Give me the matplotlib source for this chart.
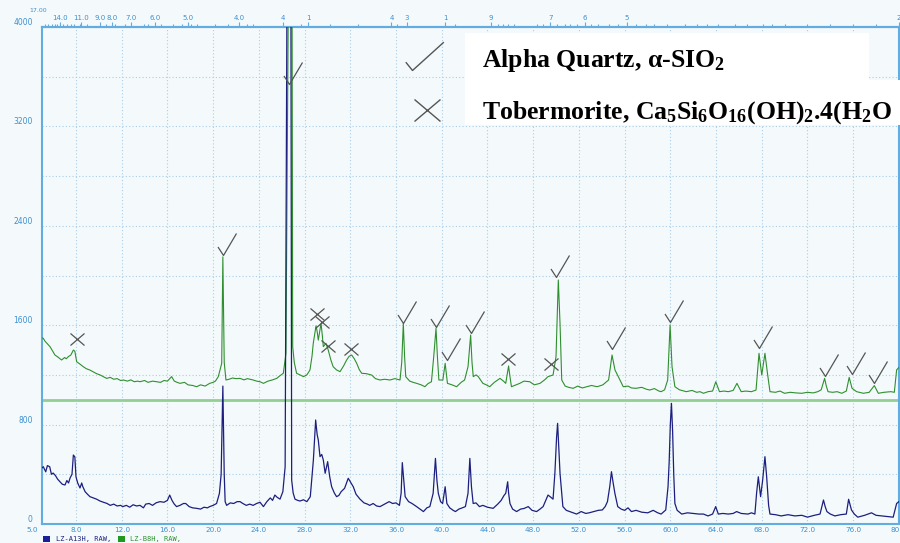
import matplotlib
matplotlib.use("Agg")
import matplotlib.pyplot as plt
from matplotlib.path import Path
from matplotlib.patches import Rectangle

# ---------------- data ----------------
blue_tt = [5.0, 5.14, 5.35, 5.5, 5.7, 5.85, 6.0, 6.2, 6.4, 6.6, 6.8, 7.04, 7.2, 7.35, 7.48, 7.65, 7.77, 7.9, 8.0, 8.15,
           8.35, 8.5, 8.6, 8.8, 9.0, 9.22, 9.5, 9.8, 10.1, 10.4, 10.7, 11.0, 11.3, 11.6, 11.9, 12.1, 12.4, 12.7, 13.0, 13.3,
           13.6, 13.9, 14.1, 14.4, 14.7, 15.0, 15.35, 15.7, 16.0, 16.2, 16.4, 16.6, 16.8, 17.1, 17.4, 17.6, 17.9, 18.2, 18.56, 18.9,
           19.2, 19.5, 19.7, 20.0, 20.3, 20.55, 20.7, 20.85, 20.97, 21.05, 21.18, 21.5, 21.8, 22.1, 22.35, 22.6, 22.9, 23.2, 23.5, 23.8,
           24.1, 24.4, 24.7, 25.0, 25.2, 25.4, 25.6, 25.85, 26.1, 26.3, 26.47, 26.8, 26.87, 27.0, 27.16, 27.4, 27.6, 27.9, 28.2, 28.5,
           28.77, 28.97, 29.1, 29.2, 29.35, 29.5, 29.64, 29.8, 30.02, 30.2, 30.37, 30.6, 30.8, 31.0, 31.2, 31.5, 31.82, 32.0, 32.26, 32.5,
           32.85, 33.2, 33.5, 33.7, 34.0, 34.3, 34.6, 35.0, 35.4, 35.7, 36.0, 36.3, 36.45, 36.55, 36.68, 36.8, 37.1, 37.4, 37.8, 38.1,
           38.4, 38.7, 38.96, 39.25, 39.45, 39.58, 39.7, 39.9, 40.08, 40.3, 40.45, 40.7, 41.0, 41.2, 41.5, 41.8, 42.07, 42.3, 42.46, 42.6,
           42.75, 43.0, 43.3, 43.6, 44.0, 44.5, 44.9, 45.2, 45.45, 45.6, 45.77, 45.85, 45.97, 46.2, 46.55, 46.9, 47.2, 47.57, 47.9, 48.3,
           48.6, 48.87, 49.1, 49.3, 49.55, 49.74, 49.9, 50.05, 50.14, 50.25, 50.35, 50.6, 50.9, 51.2, 51.5, 51.8, 52.2, 52.6, 52.9, 53.3,
           53.7, 54.05, 54.3, 54.5, 54.7, 54.85, 55.0, 55.15, 55.4, 55.7, 56.0, 56.3, 56.6, 57.0, 57.5, 58.03, 58.5, 58.9, 59.2, 59.6,
           59.8, 59.9, 60.0, 60.1, 60.2, 60.3, 60.4, 60.6, 61.0, 61.5, 62.0, 62.5, 62.9, 63.3, 63.7, 63.97, 64.2, 64.6, 65.07, 65.5,
           65.8, 66.2, 66.8, 67.1, 67.4, 67.55, 67.7, 67.9, 68.08, 68.28, 68.43, 68.6, 68.72, 69.2, 69.7, 70.3, 70.9, 71.5, 72.0, 72.6,
           73.1, 73.4, 73.55, 73.7, 74.0, 74.4, 74.9, 75.4, 75.6, 75.85, 76.1, 76.4, 77.0, 77.6, 78.0, 78.5, 79.0, 79.5, 79.8, 80.0]
blue_int = [450, 461, 420, 470, 461, 400, 410, 390, 360, 340, 320, 314, 350, 330, 370, 400, 555, 540, 380, 330,
            290, 330, 300, 260, 240, 220, 210, 200, 185, 175, 166, 150, 160, 145, 150, 140, 150, 135, 155, 145,
            150, 130, 160, 165, 150, 170, 180, 175, 190, 233, 190, 160, 140, 150, 165, 165, 140, 130, 126, 120,
            135, 130, 140, 150, 165, 247, 400, 1110, 400, 180, 150, 170, 165, 180, 180, 165, 150, 160, 150, 165,
            175, 140, 180, 210, 190, 233, 215, 200, 260, 461, 4500, 4500, 354, 250, 200, 190, 185, 195, 180, 220,
            515, 837, 720, 676, 542, 560, 515, 408, 502, 380, 300, 250, 220, 230, 260, 287, 368, 340, 300, 240,
            200, 170, 160, 150, 165, 145, 140, 160, 180, 165, 170, 150, 250, 494, 350, 220, 180, 165, 140, 120,
            100, 130, 140, 247, 528, 350, 247, 180, 165, 300, 165, 130, 110, 100, 120, 130, 140, 247, 528, 300,
            165, 170, 140, 150, 135, 126, 160, 190, 230, 247, 340, 250, 165, 120, 100, 120, 125, 140, 110, 100,
            120, 140, 190, 233, 215, 200, 408, 700, 810, 600, 408, 140, 110, 100, 90, 80, 100, 85, 90, 100,
            110, 113, 140, 180, 300, 421, 330, 247, 140, 120, 110, 130, 100, 110, 95, 90, 110, 90, 80, 113,
            300, 500, 800, 971, 750, 400, 165, 110, 80, 90, 85, 80, 80, 65, 80, 140, 80, 85, 80, 85,
            100, 85, 80, 90, 80, 250, 380, 220, 354, 542, 380, 150, 80, 75, 65, 75, 65, 70, 55, 70,
            80, 193, 140, 100, 80, 65, 75, 80, 199, 113, 80, 55, 70, 90, 70, 65, 60, 55, 165, 180]

green_tt = [5.0, 5.14, 5.3, 5.5, 5.73, 5.9, 6.16, 6.4, 6.6, 6.75, 7.0, 7.15, 7.33, 7.55, 7.77, 7.9, 8.06, 8.3, 8.64, 8.9,
            9.22, 9.5, 9.8, 10.1, 10.4, 10.68, 11.0, 11.3, 11.6, 11.9, 12.14, 12.5, 12.8, 13.1, 13.4, 13.6, 14.0, 14.3, 14.7, 15.06,
            15.4, 15.7, 16.0, 16.2, 16.37, 16.6, 16.85, 17.1, 17.5, 17.8, 18.2, 18.56, 18.9, 19.3, 19.7, 20.0, 20.2, 20.45, 20.75, 20.85,
            20.97, 21.12, 21.4, 21.7, 22.0, 22.35, 22.7, 23.0, 23.5, 23.8, 24.1, 24.4, 24.8, 25.2, 25.56, 25.8, 26.14, 26.37, 26.6, 26.9,
            26.96, 27.1, 27.3, 27.6, 27.9, 28.2, 28.47, 28.65, 28.76, 29.0, 29.1, 29.2, 29.44, 29.55, 29.64, 29.87, 30.07, 30.3, 30.5, 30.8,
            31.1, 31.4, 31.68, 31.9, 32.12, 32.35, 32.56, 32.8, 33.0, 33.4, 33.87, 34.2, 34.6, 35.0, 35.47, 35.9, 36.35, 36.5, 36.64, 36.75,
            36.85, 37.2, 37.5, 37.8, 38.2, 38.53, 38.8, 39.1, 39.3, 39.5, 39.62, 39.75, 40.1, 40.3, 40.5, 40.9, 41.3, 41.7, 42.0, 42.3,
            42.53, 42.65, 42.76, 43.0, 43.2, 43.6, 43.9, 44.2, 44.6, 45.1, 45.4, 45.6, 45.85, 45.98, 46.1, 46.5, 46.83, 47.2, 47.7, 48.1,
            48.6, 49.0, 49.3, 49.74, 50.0, 50.2, 50.35, 50.5, 50.8, 51.1, 51.5, 51.9, 52.3, 52.7, 53.1, 53.6, 54.1, 54.6, 54.9, 55.16,
            55.45, 55.88, 56.3, 56.6, 57.0, 57.5, 57.9, 58.2, 58.6, 59.0, 59.2, 59.5, 59.77, 59.98, 60.15, 60.4, 60.8, 61.4, 61.9, 62.3,
            62.6, 62.9, 63.3, 63.7, 63.98, 64.3, 64.7, 65.07, 65.5, 65.83, 66.2, 66.6, 67.1, 67.5, 67.76, 68.0, 68.28, 68.5, 68.72, 69.2,
            69.6, 70.0, 70.5, 71.0, 71.5, 72.0, 72.5, 72.9, 73.2, 73.5, 73.65, 73.8, 74.2, 74.6, 75.0, 75.4, 75.65, 75.9, 76.3, 76.9,
            77.4, 77.85, 78.2, 78.7, 79.3, 79.6, 79.8, 80.0]
green_int = [1500, 1494, 1470, 1450, 1427, 1400, 1360, 1345, 1330, 1320, 1340, 1330, 1347, 1360, 1400, 1390, 1306, 1290, 1266, 1250,
             1239, 1225, 1210, 1200, 1185, 1172, 1180, 1165, 1170, 1155, 1159, 1150, 1160, 1145, 1150, 1145, 1155, 1140, 1150, 1145,
             1140, 1155, 1150, 1170, 1186, 1150, 1140, 1132, 1140, 1120, 1115, 1105, 1120, 1110, 1132, 1140, 1150, 1186, 1293, 2150,
             1300, 1159, 1165, 1175, 1170, 1172, 1160, 1170, 1159, 1150, 1145, 1132, 1150, 1160, 1172, 1190, 1213, 1374, 4500, 4500,
             1427, 1300, 1213, 1200, 1186, 1200, 1239, 1350, 1454, 1594, 1550, 1480, 1615, 1520, 1427, 1454, 1400, 1320, 1266, 1240,
             1226, 1270, 1320, 1350, 1360, 1330, 1293, 1240, 1213, 1210, 1199, 1170, 1159, 1165, 1159, 1170, 1159, 1300, 1615, 1350,
             1186, 1150, 1140, 1132, 1120, 1105, 1130, 1145, 1347, 1575, 1350, 1159, 1159, 1293, 1132, 1120, 1105, 1140, 1159, 1266,
             1521, 1300, 1186, 1200, 1186, 1132, 1120, 1105, 1140, 1172, 1150, 1132, 1272, 1180, 1105, 1120, 1132, 1150, 1145, 1120,
             1132, 1160, 1186, 1199, 1347, 1964, 1615, 1159, 1110, 1100, 1092, 1110, 1095, 1105, 1115, 1105, 1120, 1159, 1360, 1239,
             1186, 1105, 1110, 1095, 1092, 1100, 1085, 1078, 1090, 1070, 1065, 1080, 1159, 1602, 1266, 1105, 1080, 1065, 1075, 1060,
             1065, 1052, 1065, 1070, 1145, 1065, 1070, 1065, 1075, 1132, 1065, 1070, 1065, 1078, 1374, 1199, 1374, 1213, 1065, 1060,
             1070, 1052, 1060, 1055, 1052, 1060, 1055, 1065, 1080, 1172, 1110, 1065, 1060, 1065, 1052, 1070, 1180, 1092, 1065, 1052,
             1060, 1114, 1052, 1060, 1065, 1060, 1240, 1260]

green_base = 1000

quartz_tt = [20.89, 26.65, 36.64, 39.5, 40.43, 42.53, 50.0, 54.87, 59.97, 67.78, 73.53, 75.87, 77.82]
quartz_int = [2165, 3541, 1615, 1583, 1320, 1535, 1985, 1406, 1628, 1414, 1191, 1205, 1132]
tober_tt = [8.06, 29.06, 29.5, 30.07, 32.03, 45.82, 49.53]
tober_int = [1486, 1690, 1628, 1433, 1406, 1326, 1285]

x_ticks = [8, 12, 16, 20, 24, 28, 32, 36, 40, 44, 48, 52, 56, 60, 64, 68, 72, 76, 80]
x_labels = ["8.0", "12.0", "16.0", "20.0", "24.0", "28.0", "32.0", "36.0", "40.0", "44.0", "48.0", "52.0",
            "56.0", "60.0", "64.0", "68.0", "72.0", "76.0", "80.0"]
y_ticks = [0, 800, 1600, 2400, 3200, 4000]
top_pos = [6.6, 8.44, 10.1, 11.15, 12.8, 14.9, 17.8, 22.3, 26.1, 28.3, 35.6, 36.97, 40.3, 44.3, 49.5, 52.5, 56.2, 80.0]
top_labels = ["14.0", "11.0", "9.0", "8.0", "7.0", "6.0", "5.0", "4.0", "4", "1", "4", "3", "1", "9", "7", "6", "5", "2"]
top_minor = [5.29, 5.58, 5.87, 6.16, 6.37, 6.89, 7.18, 7.53, 7.83, 8.35, 8.99, 10.6, 11.4, 12.3, 13.95, 14.3, 15.4,
             16.5, 17.25, 18.1, 18.56, 20.2, 21.3, 23.0, 23.5, 27.7, 30.2, 32.7, 36.06, 41.16, 44.95, 45.4, 45.8, 46.3,
             48.3, 48.9, 50.05, 50.8, 51.2, 51.8, 53.1, 53.7, 54.6, 55.4, 57.0, 57.9, 58.6, 59.7, 61.3, 62.3, 63.2, 64.2,
             65.7, 66.7, 68.1, 68.9, 70.0, 72.0, 74.0, 76.0, 78.0]

# ---------------- styling ----------------
plt.rcParams['mathtext.fontset'] = 'custom'
plt.rcParams['mathtext.rm'] = 'Liberation Serif:bold'
plt.rcParams['mathtext.it'] = 'Liberation Serif:bold:italic'
plt.rcParams['mathtext.bf'] = 'Liberation Serif:bold'

BG = '#f4fafb'
AX = '#62ace2'
TXT = '#3d8fd2'
GRID = '#a9cde9'
BLUE = '#1d1f7e'
GREEN = '#2f8f2f'
MARK = '#555555'

fig = plt.figure(figsize=(9, 5.43), dpi=100, facecolor=BG)
ax = fig.add_axes([41.7 / 900, 19 / 543, 857.2 / 900, 497 / 543], facecolor=BG)
ax.set_xlim(5, 80)
ax.set_ylim(0, 4000)

for s in ax.spines.values():
    s.set_color(AX)
    s.set_linewidth(1.5)

ax.set_xticks(x_ticks)
ax.set_xticklabels(x_labels)
ax.set_yticks(y_ticks)
ax.set_yticks(list(range(400, 4000, 800)), minor=True)
ax.tick_params(axis='x', length=0, pad=2.0, labelsize=5.2, labelcolor=TXT)
ax.tick_params(axis='y', which='both', length=0, pad=6.5, labelsize=5.5, labelcolor=TXT)
for lab in ax.get_yticklabels():
    lab.set_verticalalignment('bottom')
ax.grid(True, which='both', color=GRID, linestyle=(0, (1, 2)), linewidth=0.8)
ax.set_axisbelow(True)

# top (d-spacing) axis
sec = ax.secondary_xaxis('top')
sec.set_xticks(top_pos)
sec.set_xticklabels(top_labels)
sec.set_xticks(top_minor, minor=True)
sec.tick_params(axis='x', which='major', direction='out', length=3.6, width=0.8, color=AX,
                labelsize=5, labelcolor=TXT, pad=0.5)
sec.tick_params(axis='x', which='minor', direction='out', length=2.2, width=0.8, color=AX)
sec.spines['top'].set_color(AX)
sec.spines['top'].set_linewidth(1.5)

# traces
ax.axhline(green_base, color='#93cf93', linewidth=2, zorder=2)
ax.plot(green_tt, green_int, color=GREEN, linewidth=0.8, zorder=3)
ax.plot(blue_tt, blue_int, color=BLUE, linewidth=0.9, zorder=3)

# phase markers
check = Path([(-5.5, 8.5), (0, 0), (13, 22)], [Path.MOVETO, Path.LINETO, Path.LINETO])
cross = Path([(-7, -6), (7, 6), (-7, 6), (7, -6)], [Path.MOVETO, Path.LINETO, Path.MOVETO, Path.LINETO])
ax.plot(quartz_tt, quartz_int, ls='none', marker=check, ms=31.7, mfc='none', mec=MARK, mew=0.9, zorder=4)
ax.plot(tober_tt, tober_int, ls='none', marker=cross, ms=10.1, mfc='none', mec=MARK, mew=0.9, zorder=4)

# legend box (top right)
ax.add_patch(Rectangle((0.494, 0.803), 0.4706, 0.185, transform=ax.transAxes, facecolor='white',
                       edgecolor='none', zorder=5))
ax.add_patch(Rectangle((0.494, 0.803), 0.51, 0.090, transform=ax.transAxes, facecolor='white',
                       edgecolor='none', zorder=5, clip_on=False))
check_big = Path([(-6.7, 8.3), (0, 0), (31.3, 28.3)], [Path.MOVETO, Path.LINETO, Path.LINETO])
cross_big = Path([(-13, -11), (13, 11), (-13, 11), (13, -11)], [Path.MOVETO, Path.LINETO, Path.MOVETO, Path.LINETO])
ax.plot([0.4318], [0.9135], transform=ax.transAxes, ls='none', marker=check_big, ms=45.1, mfc='none',
        mec=MARK, mew=1.0, zorder=6, clip_on=False)
ax.plot([0.4493], [0.833], transform=ax.transAxes, ls='none', marker=cross_big, ms=18.7, mfc='none',
        mec=MARK, mew=1.0, zorder=6, clip_on=False)
ax.text(0.5135, 0.919, 'Alpha Quartz, \u03b1-SIO$_2$', transform=ax.transAxes, fontsize=18.5,
        family='Liberation Serif', weight='bold', va='baseline', ha='left', zorder=7, clip_on=False)
ax.text(0.5135, 0.815, 'Tobermorite, Ca$_5$Si$_6$O$_{16}$(OH)$_2$.4(H$_2$O', transform=ax.transAxes,
        fontsize=18.5, family='Liberation Serif', weight='bold', va='baseline', ha='left', zorder=7, clip_on=False)

# extra small labels
fig.text(32 / 900, 1 - 530.5 / 543, '5.0', fontsize=5.2, color=TXT, ha='center', va='center')
fig.text(38 / 900, 1 - 10 / 543, '17.00', fontsize=4.5, color=TXT, ha='center', va='center')

# bottom legend
fig.add_artist(Rectangle((43 / 900, 1 - 542 / 543), 7 / 900, 6 / 543, transform=fig.transFigure,
                         facecolor='#1a1f9a', edgecolor='none'))
fig.text(56 / 900, 1 - 539.5 / 543, 'LZ-A13H, RAW,', fontsize=5.0, family='DejaVu Sans Mono',
         color=BLUE, ha='left', va='center')
fig.add_artist(Rectangle((118 / 900, 1 - 542 / 543), 7 / 900, 6 / 543, transform=fig.transFigure,
                         facecolor='#1f9a1f', edgecolor='none'))
fig.text(130 / 900, 1 - 539.5 / 543, 'LZ-B8H, RAW,', fontsize=5.0, family='DejaVu Sans Mono',
         color=GREEN, ha='left', va='center')

fig.savefig('out.png', dpi=100, facecolor=BG)
